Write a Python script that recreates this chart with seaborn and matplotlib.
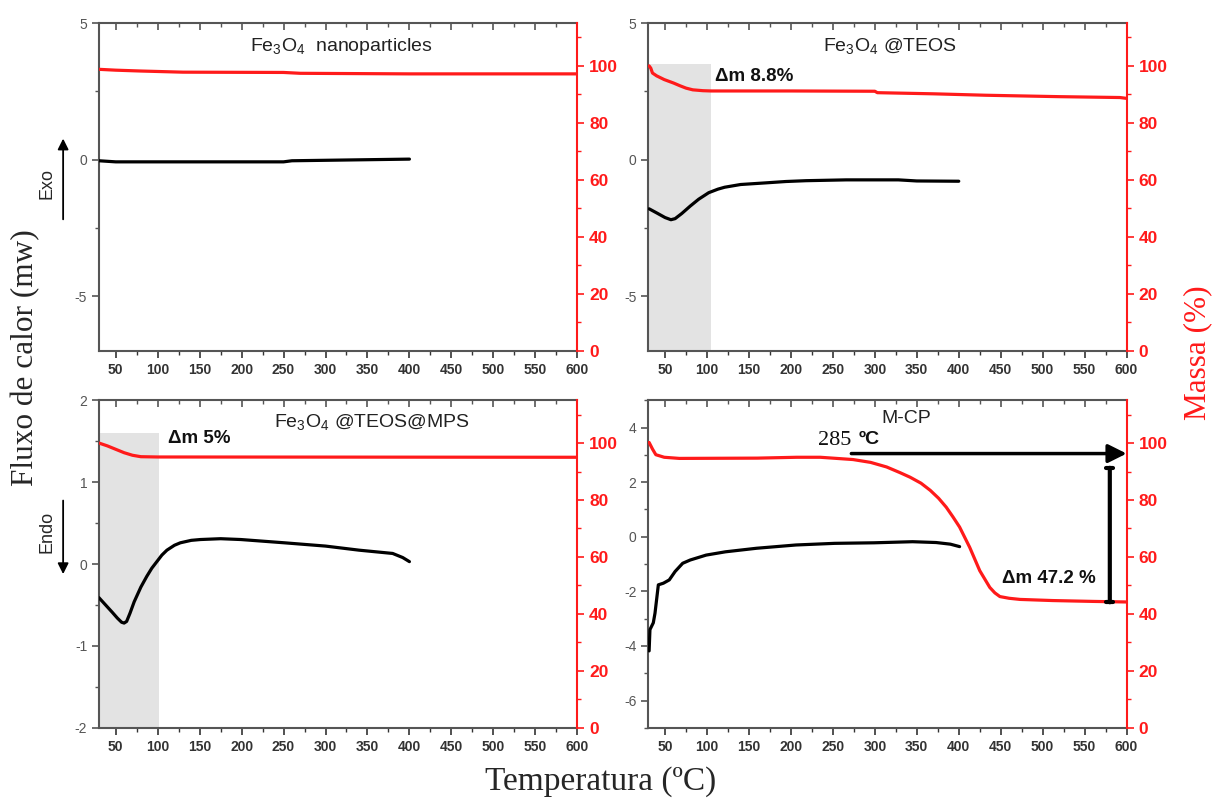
import numpy as np
import pandas as pd
import seaborn as sns
import matplotlib
matplotlib.use("Agg")
import matplotlib.pyplot as plt
from matplotlib.ticker import MultipleLocator, NullFormatter

sns.set_style("ticks")
plt.rcParams["font.family"] = ["Liberation Sans", "DejaVu Sans"]
plt.rcParams["mathtext.fontset"] = "custom"
plt.rcParams["mathtext.rm"] = "Liberation Sans"
plt.rcParams["axes.unicode_minus"] = False

# ---- Fe3O4 nanoparticles ----
np_mass_t = [30, 50, 80, 130, 250, 270, 400, 600]
np_mass = [98.8, 98.5, 98.2, 97.8, 97.7, 97.4, 97.2, 97.2]
np_dsc_t = [30, 50, 250, 260, 400]
np_dsc = [-0.04, -0.08, -0.08, -0.04, 0.02]

# ---- Fe3O4@TEOS ----
teos_mass_t = [31, 33, 35, 40, 49, 60, 68, 75, 83, 95, 105, 200, 300, 303,
               370, 432, 520, 592, 600]
teos_mass = [100, 99.2, 97.5, 96.5, 95.2, 94.0, 93.0, 92.2, 91.6, 91.3, 91.2,
             91.2, 91.1, 90.6, 90.2, 89.7, 89.2, 88.9, 88.6]
teos_dsc_t = [31, 40, 50, 57, 62, 70, 80, 90, 102, 113, 121, 140, 170, 194,
              218, 266, 328, 350, 400]
teos_dsc = [-1.80, -1.95, -2.12, -2.20, -2.16, -1.97, -1.70, -1.45, -1.21,
            -1.08, -1.01, -0.91, -0.85, -0.80, -0.77, -0.74, -0.74, -0.78,
            -0.79]

# ---- Fe3O4@TEOS@MPS ----
mps_mass_t = [30, 40, 50, 60, 70, 80, 100, 600]
mps_mass = [100, 99.0, 97.8, 96.6, 95.7, 95.2, 95.1, 95.0]
mps_dsc_t = [30, 38, 46, 52, 57, 60, 63, 67, 72, 80, 87, 93, 99, 105, 111,
             120, 127, 140, 151, 175, 199, 251, 300, 340, 380, 392, 400]
mps_dsc = [-0.41, -0.50, -0.59, -0.66, -0.71, -0.72, -0.70, -0.60, -0.46,
           -0.28, -0.15, -0.05, 0.03, 0.11, 0.17, 0.23, 0.26, 0.29, 0.30,
           0.31, 0.30, 0.26, 0.22, 0.17, 0.13, 0.08, 0.03]

# ---- M-CP ----
mcp_mass_t = [31, 35, 39, 49, 67, 160, 207, 235, 274, 295, 314, 330, 342, 355,
              366, 376, 385, 393, 401, 413, 425, 437, 443, 449, 460, 473, 512,
              560, 600]
mcp_mass = [100.2, 97.9, 95.9, 95.0, 94.6, 94.7, 95.0, 95.0, 94.2, 93.2, 91.6,
            89.6, 88.0, 85.9, 83.4, 80.6, 77.5, 74.1, 70.5, 63.4, 55.2, 49.3,
            47.4, 46.1, 45.5, 45.1, 44.7, 44.4, 44.2]
mcp_dsc_t = [31, 32, 36, 38, 42, 48, 55, 62, 71, 80, 99, 122, 159, 206, 252,
             299, 345, 373, 390, 401]
mcp_dsc = [-4.18, -3.40, -3.15, -2.80, -1.76, -1.70, -1.58, -1.27, -0.97,
           -0.85, -0.67, -0.55, -0.42, -0.30, -0.24, -0.22, -0.18, -0.21,
           -0.27, -0.36]

x_ticks = list(range(50, 601, 50))
RED = "#ff1a1a"
GRAY = "#555555"

fig = plt.figure(figsize=(12.14, 7.99), dpi=100)

# axes rectangles: [left, bottom, width, height]
rects = {
    "tl": [0.0815, 0.561, 0.394, 0.410],
    "tr": [0.534, 0.561, 0.394, 0.410],
    "bl": [0.0815, 0.089, 0.394, 0.410],
    "br": [0.534, 0.089, 0.394, 0.410],
}


def make_panel(key, mass_t, mass, dsc_t, dsc, ylim, major, minor):
    ax = fig.add_axes(rects[key])
    ax2 = ax.twinx()
    dsc_df = pd.DataFrame({"T": dsc_t, "q": dsc})
    mass_df = pd.DataFrame({"T": mass_t, "m": mass})
    sns.lineplot(data=dsc_df, x="T", y="q", ax=ax, color="black", lw=2.3,
                 estimator=None, sort=False, zorder=3)
    sns.lineplot(data=mass_df, x="T", y="m", ax=ax2, color=RED, lw=2.3,
                 estimator=None, sort=False)
    ax.set_xlabel("")
    ax.set_ylabel("")
    ax2.set_ylabel("")
    ax.set_xticks(x_ticks)
    ax.xaxis.set_minor_locator(MultipleLocator(25))
    ax.yaxis.set_major_locator(MultipleLocator(major))
    ax.yaxis.set_minor_locator(MultipleLocator(minor))
    ax2.yaxis.set_major_locator(MultipleLocator(20))
    ax2.yaxis.set_minor_locator(MultipleLocator(10))
    ax.set_xlim(30, 600)
    ax2.set_ylim(0, 115)
    ax.set_ylim(*ylim)
    ax.tick_params(axis="x", which="both", top=False, direction="out",
                   colors="#333333", labelsize=10)
    ax.tick_params(axis="x", which="major", length=5, width=1.2)
    ax.tick_params(axis="x", which="minor", length=3, width=1)
    ax.tick_params(axis="y", which="major", length=5, width=1.2,
                   colors=GRAY, labelsize=10)
    ax.tick_params(axis="y", which="minor", length=3, width=1, colors=GRAY)
    for lbl in ax.get_xticklabels():
        lbl.set_fontweight("bold")
    ax2.tick_params(axis="y", which="major", length=5, width=1.2, colors=RED,
                    labelsize=12.5)
    ax2.tick_params(axis="y", which="minor", length=3, width=1, colors=RED)
    for lbl in ax2.get_yticklabels():
        lbl.set_fontweight("bold")
    for s in ["left", "bottom", "top"]:
        ax.spines[s].set_color(GRAY)
        ax.spines[s].set_linewidth(1.5)
        ax2.spines[s].set_visible(False)
    ax.spines["right"].set_visible(False)
    ax2.spines["right"].set_color(RED)
    ax2.spines["right"].set_linewidth(1.5)
    # inward ticks along the top edge
    top = ax.secondary_xaxis("top")
    top.set_xticks(x_ticks)
    top.xaxis.set_minor_locator(MultipleLocator(25))
    top.xaxis.set_major_formatter(NullFormatter())
    top.tick_params(which="both", direction="in", colors=GRAY)
    top.tick_params(which="major", length=5, width=1.2)
    top.tick_params(which="minor", length=3, width=1)
    top.spines["top"].set_visible(False)
    return ax, ax2


ax_tl, ax2_tl = make_panel("tl", np_mass_t, np_mass, np_dsc_t, np_dsc,
                           (-7, 5), 5, 2.5)
ax_tr, ax2_tr = make_panel("tr", teos_mass_t, teos_mass, teos_dsc_t, teos_dsc,
                           (-7, 5), 5, 2.5)
ax_bl, ax2_bl = make_panel("bl", mps_mass_t, mps_mass, mps_dsc_t, mps_dsc,
                           (-2, 2), 1, 0.5)
ax_br, ax2_br = make_panel("br", mcp_mass_t, mcp_mass, mcp_dsc_t, mcp_dsc,
                           (-7, 5), 2, 1)

# shaded mass-loss windows
ax_tr.axvspan(30, 105, ymin=0, ymax=100.8 / 115, color="#e3e3e3", lw=0, zorder=0)
ax_bl.axvspan(30, 102, ymin=0, ymax=103.5 / 115, color="#e3e3e3", lw=0, zorder=0)

# panel titles
title_kw = dict(ha="center", va="center", fontsize=14, color="#222222")
ax_tl.text(319, 4.15, "Fe$_3$O$_4$  nanoparticles", **title_kw)
ax_tr.text(318, 4.15, "Fe$_3$O$_4$ @TEOS", **title_kw)
ax_bl.text(355, 1.72, "Fe$_3$O$_4$ @TEOS@MPS", **title_kw)
ax_br.text(338, 4.34, "M-CP", **title_kw)

# mass-loss labels
dm_kw = dict(fontsize=13.5, fontweight="bold", color="#111111", va="center")
ax2_tr.text(110, 96.3, "Δm 8.8%", **dm_kw)
ax2_bl.text(112, 101.5, "Δm 5%", **dm_kw)
ax2_br.text(452, 52.5, "Δm 47.2 %", **dm_kw)

# M-CP onset arrow and mass-loss bar
ax2_br.annotate("", xy=(600, 96.3), xytext=(272, 96.3),
                arrowprops=dict(arrowstyle="-|>", color="black", lw=2.5,
                                mutation_scale=28, shrinkA=0, shrinkB=0))
ax2_br.text(232, 100.8, "285", fontsize=16, family="Liberation Serif",
            color="#111111", ha="left", va="center")
ax2_br.text(281, 101.2, "ºC", fontsize=14, fontweight="bold",
            color="#111111", ha="left", va="center")
m_bottom, m_loss = 44.1, 47.2
ax2_br.annotate("", xy=(580, m_bottom), xytext=(580, m_bottom + m_loss),
                arrowprops=dict(arrowstyle="|-|, widthA=0.25, widthB=0.25",
                                color="black", lw=3, shrinkA=0, shrinkB=0))

# shared axis titles
fig.text(0.021, 0.553, "Fluxo de calor (mw)", rotation=90, ha="center",
         va="center", fontsize=22.5, family="Liberation Serif")
fig.text(0.987, 0.559, "Massa (%)", rotation=90, ha="center", va="center",
         fontsize=22.5, family="Liberation Serif", color=RED)
fig.text(0.495, 0.022, "Temperatura (ºC)", ha="center", va="center",
         fontsize=24, family="Liberation Serif")

# Exo / Endo direction markers
fig.add_artist(matplotlib.patches.FancyArrowPatch(
    (0.052, 0.722), (0.052, 0.83), transform=fig.transFigure,
    arrowstyle="-|>", mutation_scale=16, color="black", lw=1.3))
fig.text(0.039, 0.77, "Exo", rotation=90, ha="center", va="center",
         fontsize=13)
fig.add_artist(matplotlib.patches.FancyArrowPatch(
    (0.052, 0.377), (0.052, 0.278), transform=fig.transFigure,
    arrowstyle="-|>", mutation_scale=16, color="black", lw=1.3))
fig.text(0.039, 0.334, "Endo", rotation=90, ha="center", va="center",
         fontsize=13)

fig.savefig("out.png", dpi=100)
